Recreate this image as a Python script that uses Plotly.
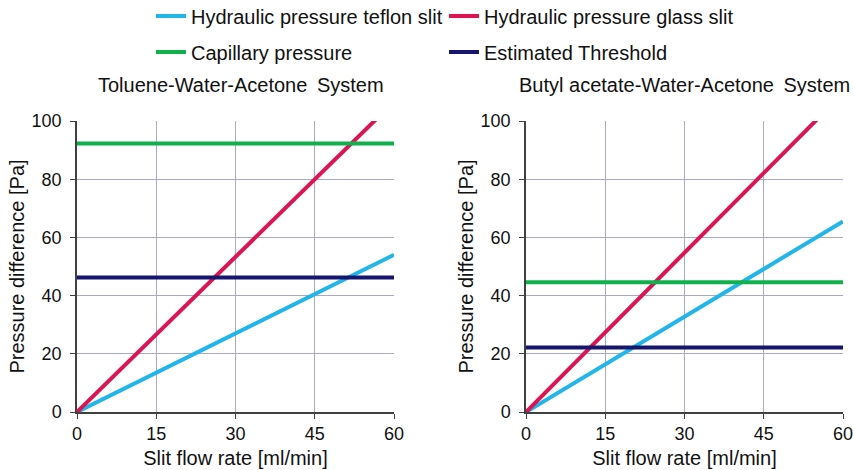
import plotly.graph_objects as go

flow = [0, 60]
# Toluene-Water-Acetone System
tol_teflon = [0, 54.0]
tol_glass = [0, 106.6]
tol_capillary = [92.3, 92.3]
tol_threshold = [46.2, 46.2]
# Butyl acetate-Water-Acetone System
but_teflon = [0, 65.5]
but_glass = [0, 109.5]
but_capillary = [44.6, 44.6]
but_threshold = [22.2, 22.2]

names = ["Hydraulic pressure teflon slit", "Hydraulic pressure glass slit",
         "Capillary pressure", "Estimated Threshold"]
colors = ["#21B5EA", "#DC1452", "#10B04C", "#16166E"]
legends = ["legend", "legend", "legend2", "legend2"]

titles = ["Toluene-Water-Acetone\u2009 System", "Butyl acetate-Water-Acetone\u2009 System"]
x_ticks = [0, 15, 30, 45, 60]
y_ticks = [0, 20, 40, 60, 80, 100]

FONT = "Arial, Liberation Sans, sans-serif"
fig = go.Figure()

sets = [
    (tol_teflon, tol_glass, tol_capillary, tol_threshold),
    (but_teflon, but_glass, but_capillary, but_threshold),
]
for p, series in enumerate(sets):
    xa = "x" if p == 0 else "x2"
    ya = "y" if p == 0 else "y2"
    for i, vals in enumerate(series):
        fig.add_trace(go.Scatter(
            x=flow, y=vals, mode="lines", name=names[i],
            line=dict(color=colors[i], width=4),
            xaxis=xa, yaxis=ya, legend=legends[i],
            showlegend=(p == 0),
        ))

W, H = 853, 470
L, R, T, B = 77, 10, 121, 58
pw = W - L - R
ph = H - T - B

def px_x(px):
    return (px - L) / pw

def px_y(py):
    return 1 + (T - py) / ph

axis_common = dict(
    showline=True, linecolor="#404040", linewidth=1.5,
    showgrid=True, gridcolor="#A8A8C8", gridwidth=1,
    ticks="outside", ticklen=5, tickcolor="#404040", tickwidth=1.2,
    tickfont=dict(family=FONT, size=18, color="#111"),
    zeroline=False, mirror=False, automargin=False,
    ticklabeloverflow="allow",
)

xd1 = [0, px_x(394)]
xd2 = [px_x(526), 1]

fig.update_layout(
    width=W, height=H,
    margin=dict(l=L, r=R, t=T, b=B, autoexpand=False),
    paper_bgcolor="white", plot_bgcolor="white",
    font=dict(family=FONT, color="#111"),
    xaxis=dict(domain=xd1, range=[0, 60], tickvals=x_ticks, anchor="y",
               title=dict(text="Slit flow rate [ml/min]", font=dict(size=20), standoff=8),
               **axis_common),
    yaxis=dict(domain=[0, 1], range=[0, 100], tickvals=y_ticks, anchor="x",
               ticklabelstandoff=5,
               title=dict(text="Pressure difference [Pa]", font=dict(size=20), standoff=2),
               **axis_common),
    xaxis2=dict(domain=xd2, range=[0, 60], tickvals=x_ticks, anchor="y2",
                title=dict(text="Slit flow rate [ml/min]", font=dict(size=20), standoff=8),
                **axis_common),
    yaxis2=dict(domain=[0, 1], range=[0, 100], tickvals=y_ticks, anchor="x2",
                ticklabelstandoff=5,
                title=dict(text="Pressure difference [Pa]", font=dict(size=20), standoff=2),
                **axis_common),
    legend=dict(orientation="h", x=px_x(151), xanchor="left", y=px_y(16), yanchor="middle",
                font=dict(family=FONT, size=20, color="#111"),
                entrywidth=248, entrywidthmode="pixels", bgcolor="rgba(0,0,0,0)",
                itemwidth=30, traceorder="normal"),
    legend2=dict(orientation="h", x=px_x(151), xanchor="left", y=px_y(52), yanchor="middle",
                 font=dict(family=FONT, size=20, color="#111"),
                 entrywidth=248, entrywidthmode="pixels", bgcolor="rgba(0,0,0,0)",
                 itemwidth=30, traceorder="normal"),
    showlegend=True,
)

fig.add_annotation(text=titles[0], x=px_x(241), y=px_y(85), xref="paper", yref="paper",
                   showarrow=False, font=dict(family=FONT, size=20, color="#111"),
                   xanchor="center", yanchor="middle")
fig.add_annotation(text=titles[1], x=px_x(684), y=px_y(85), xref="paper", yref="paper",
                   showarrow=False, font=dict(family=FONT, size=20, color="#111"),
                   xanchor="center", yanchor="middle")

fig.write_html("out.html")
